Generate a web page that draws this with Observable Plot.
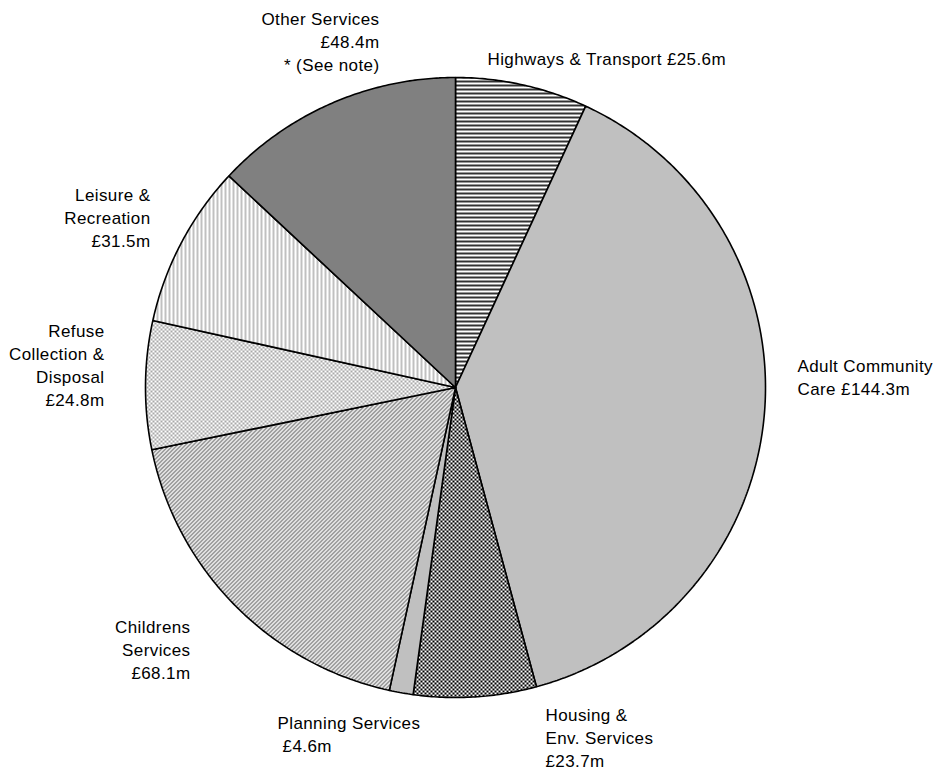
<!DOCTYPE html>
<html><head><meta charset="utf-8">
<script src="https://cdn.jsdelivr.net/npm/d3@7"></script>
<script src="https://cdn.jsdelivr.net/npm/@observablehq/plot@0.6"></script>
<style>body{margin:0;background:#fff}</style>
</head><body><div id="chart"></div>
<script>
// ---- data ----
const categories = ["Highways & Transport", "Adult Community Care", "Housing & Env. Services", "Planning Services", "Childrens Services", "Refuse Collection & Disposal", "Leisure & Recreation", "Other Services"];
const values = [25.6, 144.3, 23.7, 4.6, 68.1, 24.8, 31.5, 48.4];
const labels = ["Highways & Transport £25.6m", "Adult Community\nCare £144.3m", "Housing &\nEnv. Services\n£23.7m", "Planning Services\n\u00a0£4.6m", "Childrens\nServices\n£68.1m", "Refuse\nCollection &\nDisposal\n£24.8m", "Leisure &\nRecreation\n£31.5m", "Other Services\n£48.4m\n* (See note)"];
const fills = ["url(#hstripe)", "#c0c0c0", "url(#checkDark)", "#c0c0c0", "url(#diag)", "url(#checkLight)", "url(#vstripe)", "#808080"];

// ---- layout ----
const W = 937, H = 769, CX = 455, CY = 387, R = 310;
const labelLayout = [[487, 57, "start"], [797, 375.5, "start"], [545, 736, "start"], [277, 732.5, "start"], [190, 648.5, "end"], [104, 363.5, "end"], [150, 216, "end"], [379, 40.5, "end"]];

const arcs = d3.pie().sort(null).startAngle(0).endAngle(2 * Math.PI)(values);
const pts = [];
arcs.forEach((a, i) => {
  const name = categories[i], fill = fills[i];
  pts.push({name, fill, u: 0, v: 0});
  const n = Math.max(2, Math.ceil((a.endAngle - a.startAngle) / (Math.PI / 360)));
  for (let k = 0; k <= n; k++) {
    const t = a.startAngle + (a.endAngle - a.startAngle) * k / n;
    pts.push({name, fill, u: Math.sin(t), v: Math.cos(t)});
  }
  pts.push({name, fill, u: 0, v: 0});
});

const lab = labels.map((text, i) => ({
  text,
  u: (labelLayout[i][0] - CX) / R,
  v: (CY - labelLayout[i][1]) / R,
  anchor: labelLayout[i][2]
}));

const textOpts = {x: "u", y: "v", text: "text", lineAnchor: "middle", lineHeight: 1.353, fill: "black"};
const svg = Plot.plot({
  width: W, height: H, margin: 0,
  style: {fontFamily: "'Liberation Sans', Arial, sans-serif", fontSize: "17px", letterSpacing: "0.4px", background: "#fff"},
  x: {domain: [-1, 1], range: [CX - R, CX + R], axis: null},
  y: {domain: [-1, 1], range: [CY + R, CY - R], axis: null},
  color: {type: "identity"},
  marks: [
    Plot.line(pts, {x: "u", y: "v", z: "name", fill: "fill", stroke: "black", strokeWidth: 1.6, strokeLinejoin: "miter"}),
    Plot.text(lab.filter(d => d.anchor === "start"), {...textOpts, textAnchor: "start"}),
    Plot.text(lab.filter(d => d.anchor === "end"), {...textOpts, textAnchor: "end"})
  ]
});

let diagRects = "";
for (let x = 0; x < 4; x++) for (let y = 0; y < 4; y++) if (((x + y) % 4) < 2) diagRects += `<rect x="${x}" y="${y}" width="1" height="1" fill="#808080"/>`;
d3.select(svg).insert("defs", ":first-child").html(`
<pattern id="hstripe" width="4" height="4" patternUnits="userSpaceOnUse" shape-rendering="crispEdges"><rect width="4" height="4" fill="#fff"/><rect width="4" height="2" fill="#333"/></pattern>
<pattern id="checkDark" width="4" height="4" patternUnits="userSpaceOnUse" shape-rendering="crispEdges"><rect width="4" height="4" fill="#fff"/><rect width="2" height="2" fill="#000"/><rect x="2" y="2" width="2" height="2" fill="#000"/></pattern>
<pattern id="checkLight" width="4" height="4" patternUnits="userSpaceOnUse" shape-rendering="crispEdges"><rect width="4" height="4" fill="#fff"/><rect width="2" height="2" fill="#a8a8a8"/><rect x="2" y="2" width="2" height="2" fill="#a8a8a8"/></pattern>
<pattern id="diag" width="4" height="4" patternUnits="userSpaceOnUse" shape-rendering="crispEdges"><rect width="4" height="4" fill="#fff"/>${diagRects}</pattern>
<pattern id="vstripe" width="4" height="4" patternUnits="userSpaceOnUse" shape-rendering="crispEdges"><rect width="4" height="4" fill="#fff"/><rect width="2" height="4" fill="#c0c0c0"/></pattern>
`);
document.getElementById("chart").appendChild(svg);
</script>
</body></html>
